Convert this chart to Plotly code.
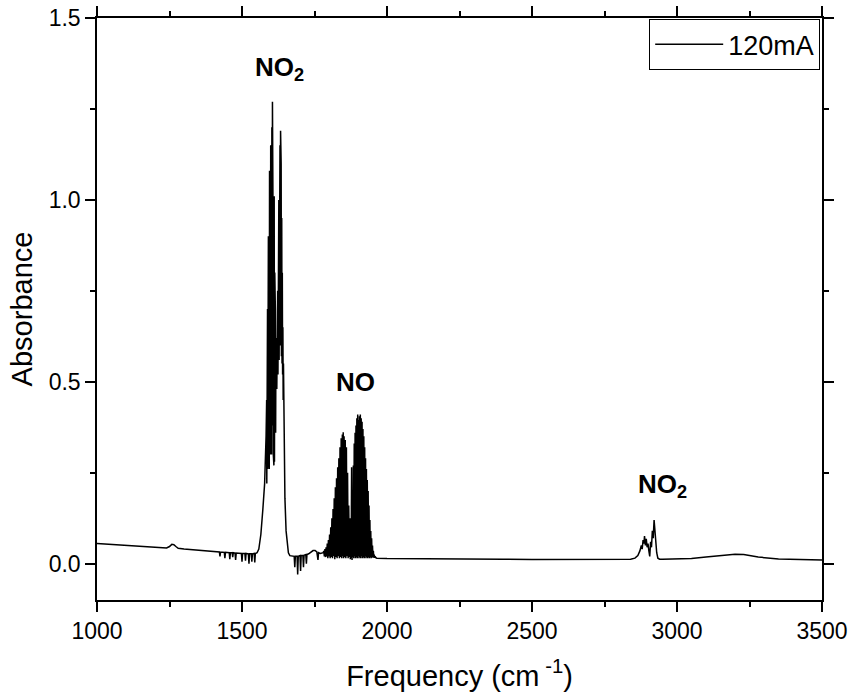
import plotly.graph_objects as go

# ---- data (frequency in cm^-1, absorbance) ----
base1_x = [1000, 1050, 1100, 1150, 1200, 1240, 1250, 1258, 1265, 1272, 1280, 1300, 1350, 1400,
           1422, 1424, 1426, 1439, 1441, 1443, 1456, 1458, 1460, 1466, 1468, 1470, 1476, 1478, 1480,
           1498, 1500, 1502, 1510, 1512, 1514, 1522, 1524, 1526, 1532, 1534, 1536, 1542, 1544, 1546,
           1552, 1558, 1565, 1572, 1578, 1583]
base1_y = [0.055, 0.053, 0.051, 0.048, 0.045, 0.043, 0.047, 0.053, 0.052, 0.047, 0.042, 0.040, 0.036, 0.033,
           0.032, 0.020, 0.032, 0.031, 0.015, 0.031, 0.030, 0.012, 0.030, 0.030, 0.018, 0.030, 0.029, 0.010, 0.029,
           0.028, 0.005, 0.028, 0.028, 0.008, 0.028, 0.027, 0.000, 0.027, 0.027, 0.005, 0.027, 0.028, 0.003, 0.028,
           0.030, 0.040, 0.080, 0.150, 0.220, 0.350]

no2a_x = [1585, 1585.5, 1586, 1586.5, 1587, 1587.5, 1588, 1588.5, 1589, 1589.5, 1590, 1590.5, 1591, 1592,
          1593, 1594, 1595, 1596, 1597, 1598, 1599,
          1600, 1601, 1602, 1603, 1604, 1605, 1606, 1607, 1608, 1609, 1610, 1611, 1612, 1613, 1614,
          1615, 1616, 1617, 1618, 1619, 1620, 1621, 1622, 1623, 1624, 1625, 1626, 1627, 1628, 1629,
          1630, 1631, 1632, 1633, 1634, 1635, 1636, 1637, 1638, 1639, 1640, 1641, 1642, 1643,
          1644, 1645, 1648, 1652, 1656, 1660, 1665]
no2a_y = [0.45, 0.22, 0.50, 0.24, 0.60, 0.25, 0.70, 0.26, 0.80, 0.28, 0.85, 0.30, 0.90, 0.30,
          1.00, 0.26, 1.08, 0.33, 1.12, 0.30, 1.15,
          0.35, 1.05, 0.30, 1.20, 0.38, 1.27, 0.40, 0.95, 0.30, 1.00, 0.27, 1.01, 0.28, 0.80, 0.32,
          0.70, 0.36, 0.62, 0.42, 0.58, 0.48, 0.60, 0.50, 0.75, 0.52, 0.90, 0.55, 1.00, 0.56, 1.10,
          0.58, 1.15, 0.60, 1.19, 0.60, 1.10, 0.57, 0.95, 0.55, 0.80, 0.52, 0.65, 0.45, 0.55,
          0.40, 0.30, 0.18, 0.09, 0.05, 0.03, 0.022]

base2_x = [1675, 1680, 1682, 1684, 1690, 1692, 1694, 1700, 1702, 1704, 1710, 1712, 1714, 1720, 1722, 1724,
           1730, 1738, 1745, 1752, 1758, 1762, 1764, 1770, 1776, 1780]
base2_y = [0.020, 0.020, -0.010, 0.020, 0.020, -0.030, 0.020, 0.022, -0.020, 0.022, 0.022, -0.010, 0.023,
           0.025, 0.000, 0.025, 0.027, 0.032, 0.036, 0.036, 0.032, 0.010, 0.030, 0.028, 0.030, 0.030]

no_x = [1782, 1784, 1786, 1788, 1790, 1792, 1794, 1796, 1798, 1800, 1802, 1804, 1806, 1808, 1810, 1812,
        1814, 1816, 1818, 1820, 1822, 1824, 1826, 1828, 1830, 1832, 1834, 1836, 1838, 1840, 1842, 1844,
        1846, 1847.5, 1849, 1850.5, 1852, 1854, 1856, 1858, 1860, 1862, 1864, 1866, 1868, 1870, 1872,
        1873.5, 1875, 1876.5, 1878, 1879.5, 1881, 1882.5, 1884, 1885.5, 1887, 1888.5, 1890, 1891.5,
        1893, 1894.5, 1896, 1897.5, 1899, 1900.5, 1902, 1903.5, 1905, 1906.5, 1908, 1909.5, 1911,
        1912.5, 1914, 1915.5, 1917, 1918.5, 1920, 1921.5, 1923, 1924.5, 1926, 1927.5, 1929, 1930.5,
        1932, 1933.5, 1935, 1936.5, 1938, 1939.5, 1941, 1942.5, 1944, 1945.5, 1947, 1948.5, 1950,
        1951.5, 1953, 1954.5, 1956, 1957.5, 1959, 1962, 1965]
no_y = [0.035, 0.020, 0.040, 0.018, 0.045, 0.020, 0.055, 0.015, 0.065, 0.020, 0.080, 0.015, 0.100, 0.018,
        0.125, 0.015, 0.150, 0.020, 0.180, 0.012, 0.210, 0.018, 0.235, 0.015, 0.265, 0.020, 0.290, 0.015,
        0.320, 0.018, 0.345, 0.015, 0.355, 0.020, 0.361, 0.015, 0.350, 0.018, 0.340, 0.015, 0.320, 0.020,
        0.250, 0.015, 0.160, 0.018, 0.125, 0.012, 0.120, 0.015, 0.265, 0.010, 0.200, 0.018, 0.270,
        0.015, 0.330, 0.020, 0.360, 0.015, 0.380, 0.018, 0.400, 0.015, 0.410, 0.020, 0.395, 0.015,
        0.405, 0.018, 0.410, 0.015, 0.400, 0.020, 0.390, 0.015, 0.370, 0.018, 0.350, 0.015, 0.320,
        0.020, 0.290, 0.015, 0.260, 0.018, 0.230, 0.015, 0.200, 0.018, 0.160, 0.015, 0.120, 0.018,
        0.090, 0.015, 0.070, 0.018, 0.050, 0.016, 0.035, 0.016, 0.025, 0.016, 0.020, 0.016, 0.015]

base3_x = [2000, 2100, 2200, 2300, 2400, 2500, 2600, 2700, 2800, 2840, 2855, 2865, 2872, 2877, 2880, 2883,
           2886, 2888, 2891, 2894, 2897, 2900, 2903, 2906, 2909, 2912, 2915, 2918, 2921, 2924, 2927,
           2930, 2934, 2940, 2950, 3000, 3050, 3100, 3150, 3200, 3230, 3280, 3350, 3420, 3500]
base3_y = [0.014, 0.013, 0.013, 0.012, 0.012, 0.011, 0.011, 0.011, 0.011, 0.012, 0.015, 0.022, 0.035, 0.050,
           0.040, 0.065, 0.055, 0.076, 0.050, 0.068, 0.045, 0.055, 0.035, 0.020, 0.060, 0.045, 0.090,
           0.070, 0.120, 0.090, 0.050, 0.030, 0.015, 0.012, 0.012, 0.012, 0.014, 0.018, 0.022, 0.026,
           0.025, 0.018, 0.013, 0.011, 0.010]

x_ticks = [1000, 1500, 2000, 2500, 3000, 3500]
y_ticks = [0.0, 0.5, 1.0, 1.5]

freq = base1_x + no2a_x + base2_x + no_x + base3_x
absorb = base1_y + no2a_y + base2_y + no_y + base3_y

FONT = "Liberation Sans, Arial, sans-serif"

fig = go.Figure()
fig.add_trace(go.Scatter(x=freq, y=absorb, mode="lines", name="120mA",
                         line=dict(color="black", width=1.5)))

axis_common = dict(showgrid=False, zeroline=False, showline=True, linecolor="black", linewidth=1.5,
                   ticks="outside", ticklen=10, tickwidth=1.5, tickcolor="black", mirror="allticks",
                   automargin=False,
                   tickfont=dict(family=FONT, size=23, color="black"))

fig.update_xaxes(range=[1000, 3500], tickvals=x_ticks, ticktext=[str(v) for v in x_ticks],
                 minor=dict(dtick=250, tick0=1000, ticks="outside", ticklen=5, tickwidth=1.5, tickcolor="black"),
                 title=dict(text="Frequency (cm<sup>\u00a0-1</sup>)", font=dict(family=FONT, size=29, color="black"),
                            standoff=22),
                 **axis_common)
fig.update_yaxes(range=[-0.1, 1.5], tickvals=y_ticks, ticktext=[f"{v:.1f}" for v in y_ticks],
                 minor=dict(dtick=0.25, tick0=0, ticks="outside", ticklen=5, tickwidth=1.5, tickcolor="black"),
                 title=dict(text="Absorbance", font=dict(family=FONT, size=29, color="black"), standoff=8),
                 **axis_common)

ann_font = dict(family=FONT, size=26, color="black")
fig.add_annotation(x=1631, y=1.36, text="<b>NO<sub>2</sub></b>", showarrow=False, font=ann_font)
fig.add_annotation(x=1893, y=0.50, text="<b>NO</b>", showarrow=False, font=ann_font)
fig.add_annotation(x=2950, y=0.215, text="<b>NO<sub>2</sub></b>", showarrow=False, font=ann_font)

fig.update_layout(
    width=851, height=696,
    margin=dict(l=97, r=29, t=18, b=96),
    plot_bgcolor="white", paper_bgcolor="white",
    showlegend=True,
    legend=dict(x=0.9975, xanchor="right", y=0.998, yanchor="top", bordercolor="black", borderwidth=1,
                bgcolor="white", itemwidth=68, font=dict(family=FONT, size=27, color="black")),
)

fig.write_html("out.html")
